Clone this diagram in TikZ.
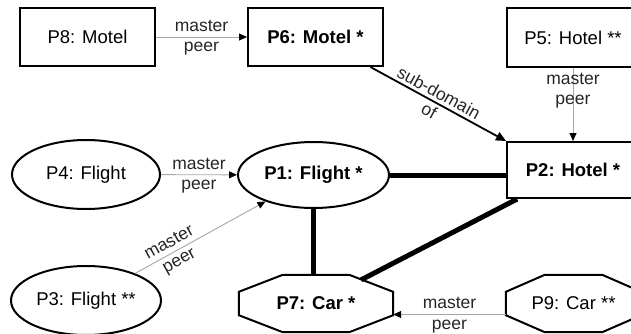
\documentclass[tikz,border=0pt]{standalone}
\usepackage{fontspec}
\setmainfont{Liberation Sans}
\usetikzlibrary{shapes.geometric,arrows.meta}

\begin{document}
\begin{tikzpicture}[x=1pt,y=1pt,
  every node/.style={font=\fontsize{18.5}{21}\selectfont},
  box/.style={draw,line width=2pt,rectangle,minimum height=58pt},
  oval/.style={draw,line width=2pt,ellipse},
  octo/.style={rectangle,minimum height=57pt},
  lbl/.style={font=\fontsize{17.5}{20}\selectfont,inner sep=5pt,text=black!85},
  masterpeer/.style={draw=gray!70,line width=0.9pt,-{Triangle[length=8pt,width=7pt,color=black]}},
  link/.style={line width=5pt},
  subdom/.style={line width=1.8pt,-{Triangle[length=10pt,width=9pt]}}]

\useasboundingbox (0,0) rectangle (631,333);

\node[box,minimum width=135pt] (p8) at (87.5,296) {P8: Motel};
\node[box,minimum width=135pt] (p6) at (315.5,296) {\bfseries P6: Motel *};
\node[box,minimum width=132pt,minimum height=59pt] (p5) at (573,295.5) {P5: Hotel **};
\node[box,minimum width=132pt,minimum height=56pt] (p2) at (573,163) {\bfseries P2: Hotel *};
\node[oval,minimum width=151pt,minimum height=66pt] (p1) at (313.5,158) {\bfseries P1: Flight *};
\node[oval,minimum width=148pt,minimum height=69pt] (p4) at (86,158.5) {P4: Flight};
\node[oval,minimum width=148pt,minimum height=69pt] (p3) at (86,32.5) {P3: Flight **};
\node[octo,minimum width=154pt] (p7) at (316,29.5) {\bfseries P7: Car *};
\node[octo,minimum width=135pt] (p9) at (573.5,29.5) {P9: Car **};

% octogones
\draw[line width=2pt] ([xshift=44pt]p7.north west) -- ([xshift=-44pt]p7.north east) -- ([yshift=-17pt]p7.north east)
  -- ([yshift=17pt]p7.south east) -- ([xshift=-44pt]p7.south east) -- ([xshift=44pt]p7.south west)
  -- ([yshift=17pt]p7.south west) -- ([yshift=-17pt]p7.north west) -- cycle;
\draw[line width=2pt] ([xshift=39pt]p9.north west) -- ([xshift=-39pt]p9.north east) -- ([yshift=-17pt]p9.north east)
  -- ([yshift=17pt]p9.south east) -- ([xshift=-39pt]p9.south east) -- ([xshift=39pt]p9.south west)
  -- ([yshift=17pt]p9.south west) -- ([yshift=-17pt]p9.north west) -- cycle;
\coordinate (p7ne) at ([xshift=-32pt,yshift=-5pt]p7.north east);

\draw[masterpeer] (p8) -- (p6) node[lbl,midway,above]{master} node[lbl,midway,below]{peer};
\draw[subdom] (p6) -- (p2.north west) node[lbl,pos=0.47,sloped,above,inner sep=3pt]{sub-domain} node[lbl,pos=0.47,sloped,below,inner sep=3pt]{of};
\draw[masterpeer] (p5.south -| p2.north) -- (p2.north) node[lbl,pos=0.31,align=center,inner sep=0pt]{master\\peer};
\draw[masterpeer] (p4) -- (p1) node[lbl,midway,above]{master} node[lbl,midway,below]{peer};
\draw[masterpeer] (p3) -- (p1) node[lbl,pos=0.3,sloped,above]{master} node[lbl,pos=0.3,sloped,below]{peer};
\draw[masterpeer] ([yshift=-11pt]p9.west) -- ([yshift=-11pt]p9.west -| p7.east) node[lbl,midway,above]{master} node[lbl,midway,below]{peer};

\draw[link] (p1) -- (p1 -| p2.west);
\draw[link] (p1.south) -- (p1.south |- p7.north);
\draw[link] (p2) -- (p7ne);
\end{tikzpicture}
\end{document}
